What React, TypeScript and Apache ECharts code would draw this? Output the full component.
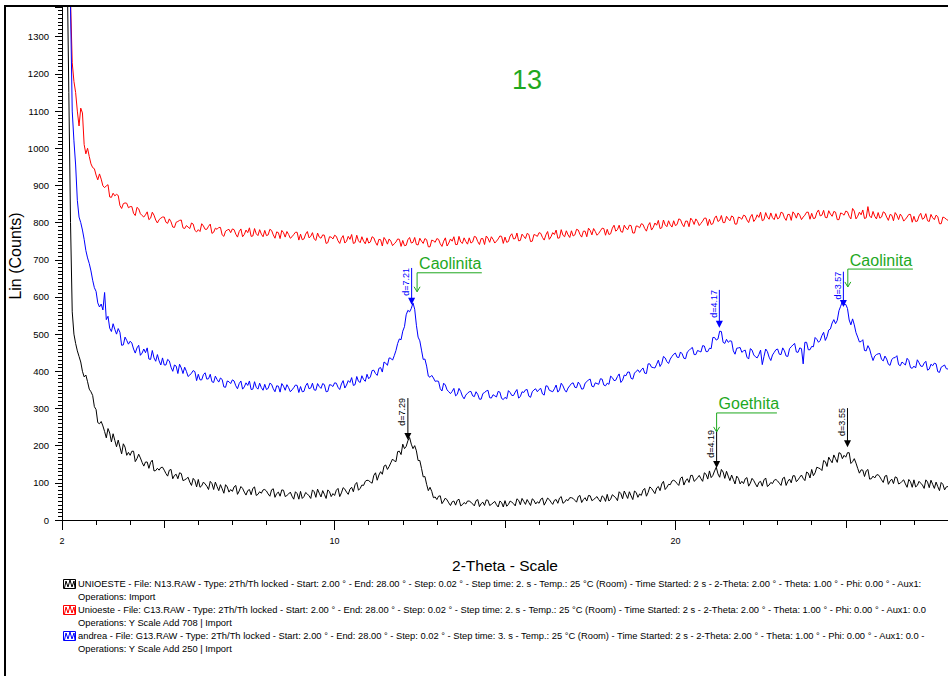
import React, { useEffect, useRef } from "react";
import * as echarts from "echarts";

// ---- data -------------------------------------------------------------
// readings every 0.1° (n.0 .. n.9 per row) and half-step readings (n.05 .. n.95)
const THETA_START = 2.0;
const THETA_STEP = 0.05;

// UNIOESTE - N13.RAW (raw counts)
const BLACK_COUNTS = [
  3200, 2000, 1150, 560, 475, 440, 400, 390, 352, 335,
  297, 259, 253, 221, 234, 232, 197, 196, 205, 174,
  174, 185, 165, 167, 145, 156, 155, 132, 139, 141,
  134, 118, 136, 120, 111, 125, 108, 115, 93, 106,
  109, 92, 97, 82, 98, 102, 79, 84, 95, 75,
  77, 93, 78, 85, 67, 82, 85, 66, 76, 81,
  78, 64, 84, 71, 64, 80, 66, 75, 56, 71,
  77, 63, 70, 58, 76, 83, 62, 69, 81, 63,
  66, 85, 73, 83, 69, 88, 95, 80, 94, 104,
  106, 99, 127, 121, 123, 148, 144, 164, 157, 185,
  204, 198, 222, 192, 186, 160, 116, 96, 88, 60,
  55, 65, 51, 54, 39, 51, 53, 38, 47, 51,
  48, 38, 55, 44, 39, 53, 42, 50, 35, 47,
  52, 42, 48, 38, 53, 58, 42, 47, 57, 43,
  45, 59, 49, 55, 42, 55, 59, 45, 55, 60,
  58, 48, 66, 55, 51, 65, 55, 63, 49, 61,
  69, 56, 64, 52, 71, 78, 58, 65, 78, 61,
  66, 85, 74, 85, 71, 90, 97, 82, 96, 105,
  104, 93, 116, 105, 101, 120, 108, 120, 104, 123,
  132, 120, 142, 115, 129, 131, 106, 109, 118, 97,
  98, 114, 99, 106, 89, 104, 108, 90, 101, 107,
  105, 93, 115, 104, 100, 119, 108, 121, 106, 126,
  136, 127, 140, 133, 157, 169, 154, 165, 181, 165,
  169, 181, 157, 153, 126, 134, 132, 110, 118, 121,
  116, 101, 120, 105, 98, 114, 99, 108, 88, 103,
  108, 93, 99, 85, 102, 107, 85, 90, 101, 81,
  90,
];
const BLACK_COUNTS_HALF = [
  2600, 1500, 800, 500, 455, 425, 385, 372, 345, 305,
  262, 265, 238, 246, 210, 214, 215, 178, 196, 182,
  185, 157, 177, 155, 156, 139, 161, 133, 134, 142,
  125, 134, 111, 123, 127, 106, 111, 102, 112, 89,
  88, 102, 91, 104, 82, 90, 95, 72, 89, 82,
  89, 69, 90, 75, 79, 68, 89, 69, 72, 82,
  70, 81, 61, 75, 81, 63, 70, 64, 76, 56,
  58, 74, 65, 81, 61, 72, 79, 58, 76, 71,
  80, 63, 87, 75, 83, 76, 101, 85, 93, 107,
  102, 120, 107, 130, 145, 136, 154, 159, 184, 176,
  192, 213, 204, 200, 160, 139, 117, 79, 77, 62,
  64, 44, 59, 46, 49, 40, 56, 41, 43, 51,
  43, 52, 36, 48, 54, 39, 46, 41, 51, 35,
  37, 51, 44, 57, 41, 50, 55, 39, 53, 49,
  56, 40, 59, 48, 53, 45, 63, 48, 52, 60,
  53, 63, 47, 60, 66, 52, 59, 55, 65, 50,
  51, 68, 60, 76, 57, 68, 76, 55, 74, 70,
  80, 64, 89, 78, 86, 79, 104, 88, 95, 107,
  98, 112, 94, 111, 120, 104, 114, 111, 127, 110,
  114, 132, 124, 136, 112, 118, 121, 97, 112, 104,
  111, 91, 112, 97, 101, 91, 113, 94, 98, 109,
  99, 112, 93, 110, 119, 103, 115, 112, 129, 113,
  119, 142, 138, 160, 144, 161, 175, 155, 179, 174,
  181, 152, 165, 139, 135, 117, 136, 111, 113, 122,
  108, 118, 96, 110, 116, 97, 104, 97, 109, 88,
  89, 104, 94, 108, 87, 96, 102, 79, 96, 89,
];

// Unioeste - C13.RAW (Y Scale Add 708)
const RED_COUNTS = [
  3600, 3000, 1700, 1230, 1150, 1060, 1095, 985, 978, 948,
  928, 931, 899, 899, 869, 879, 876, 846, 851, 852,
  843, 825, 841, 824, 815, 829, 812, 820, 799, 812,
  815, 798, 802, 787, 803, 807, 784, 788, 799, 779,
  781, 797, 782, 790, 771, 785, 787, 767, 777, 782,
  783, 769, 776, 762, 780, 786, 764, 770, 781, 762,
  765, 782, 767, 775, 757, 773, 776, 758, 768, 774,
  769, 756, 776, 763, 756, 772, 758, 766, 746, 761,
  766, 751, 758, 745, 763, 768, 746, 751, 762, 743,
  745, 762, 747, 755, 737, 753, 756, 738, 748, 755,
  752, 739, 760, 747, 741, 758, 744, 754, 735, 751,
  757, 743, 750, 737, 756, 762, 741, 748, 759, 742,
  745, 763, 749, 757, 741, 758, 762, 745, 756, 763,
  761, 749, 770, 757, 751, 769, 757, 768, 750, 766,
  773, 760, 767, 755, 773, 780, 759, 766, 778, 760,
  764, 782, 768, 777, 762, 779, 784, 766, 778, 784,
  782, 770, 793, 781, 776, 793, 781, 792, 772, 790,
  797, 784, 792, 780, 799, 806, 786, 794, 805, 788,
  792, 810, 796, 804, 789, 806, 810, 792, 804, 812,
  809, 797, 818, 806, 800, 817, 805, 815, 796, 813,
  820, 807, 815, 803, 821, 828, 808, 815, 826, 808,
  810, 828, 813, 822, 806, 823, 826, 808, 820, 828,
  825, 812, 834, 820, 814, 832, 817, 828, 808, 824,
  831, 817, 838, 810, 828, 834, 813, 818, 830, 810,
  812, 829, 815, 822, 805, 820, 823, 804, 815, 822,
  817, 804, 825, 812, 805, 822, 808, 816, 797, 813,
  806,
];
const RED_COUNTS_HALF = [
  3300, 2300, 1400, 1180, 1100, 1108, 1010, 1000, 958, 945,
  915, 917, 894, 902, 868, 872, 873, 838, 853, 840,
  843, 819, 837, 819, 821, 808, 828, 807, 808, 815,
  801, 810, 788, 801, 806, 786, 792, 784, 796, 775,
  776, 791, 782, 796, 774, 782, 787, 763, 780, 773,
  781, 761, 783, 768, 773, 763, 784, 765, 769, 779,
  767, 779, 758, 773, 779, 761, 768, 762, 774, 753,
  754, 769, 759, 773, 752, 761, 767, 744, 762, 756,
  763, 744, 765, 750, 755, 744, 766, 746, 750, 759,
  748, 759, 739, 754, 760, 742, 750, 743, 756, 736,
  738, 754, 745, 760, 740, 750, 757, 735, 753, 747,
  755, 736, 759, 745, 750, 741, 763, 744, 749, 759,
  748, 761, 741, 757, 764, 747, 755, 750, 764, 744,
  747, 764, 756, 772, 752, 763, 771, 749, 768, 763,
  771, 753, 776, 762, 768, 758, 781, 762, 767, 778,
  767, 780, 761, 777, 785, 767, 776, 771, 785, 766,
  768, 785, 777, 793, 774, 785, 793, 772, 791, 786,
  795, 777, 800, 787, 793, 784, 807, 789, 794, 805,
  795, 808, 789, 804, 812, 795, 803, 798, 812, 792,
  795, 812, 803, 819, 800, 810, 818, 796, 815, 809,
  818, 800, 822, 809, 814, 805, 827, 809, 813, 824,
  813, 826, 806, 822, 829, 812, 820, 815, 828, 809,
  811, 827, 818, 833, 813, 823, 830, 808, 826, 820,
  829, 810, 831, 817, 821, 811, 843, 813, 817, 827,
  815, 826, 806, 820, 827, 808, 816, 809, 822, 801,
  803, 818, 809, 824, 803, 813, 820, 797, 815, 809,
];

// andrea - G13.RAW (Y Scale Add 250)
const BLUE_COUNTS = [
  3500, 2800, 1700, 1100, 955, 815, 780, 725, 690, 645,
  615, 573, 565, 539, 516, 528, 500, 505, 471, 483,
  481, 460, 463, 443, 460, 463, 432, 436, 445, 417,
  417, 432, 411, 417, 394, 409, 411, 386, 395, 399,
  392, 377, 396, 380, 372, 387, 371, 378, 357, 372,
  377, 361, 367, 352, 369, 374, 352, 357, 368, 349,
  351, 368, 353, 361, 344, 360, 364, 345, 356, 362,
  359, 346, 368, 355, 350, 367, 354, 364, 346, 363,
  369, 357, 366, 355, 375, 383, 364, 373, 388, 373,
  380, 402, 394, 408, 398, 422, 436, 430, 456, 487,
  508, 552, 560, 584, 524, 482, 432, 414, 384, 382,
  374, 353, 368, 350, 340, 354, 338, 346, 326, 341,
  346, 332, 338, 325, 343, 349, 328, 334, 346, 327,
  330, 348, 335, 344, 328, 345, 350, 333, 345, 353,
  351, 339, 361, 349, 345, 363, 350, 361, 344, 361,
  369, 356, 364, 353, 372, 379, 358, 367, 380, 363,
  368, 387, 375, 386, 370, 390, 398, 381, 395, 404,
  404, 395, 420, 411, 409, 430, 421, 436, 421, 440,
  449, 437, 447, 434, 456, 464, 445, 454, 469, 453,
  462, 491, 484, 508, 478, 486, 482, 455, 462, 464,
  455, 438, 461, 444, 436, 457, 440, 453, 429, 451,
  460, 445, 455, 440, 466, 475, 451, 461, 478, 458,
  467, 491, 478, 496, 483, 511, 530, 528, 563, 588,
  580, 538, 541, 504, 479, 485, 455, 460, 429, 445,
  448, 428, 433, 416, 436, 442, 415, 421, 435, 410,
  414, 431, 414, 422, 403, 419, 422, 399, 411, 417,
  406,
];
const BLUE_COUNTS_HALF = [
  3200, 2200, 1380, 1020, 860, 800, 755, 705, 670, 625,
  584, 581, 612, 548, 507, 513, 515, 470, 492, 473,
  476, 449, 470, 449, 450, 433, 456, 427, 428, 436,
  417, 428, 400, 414, 419, 394, 400, 390, 402, 375,
  377, 391, 379, 392, 370, 378, 382, 358, 374, 367,
  374, 353, 374, 358, 362, 351, 372, 352, 356, 365,
  354, 365, 345, 360, 367, 349, 356, 350, 363, 343,
  345, 361, 353, 368, 349, 359, 367, 345, 364, 359,
  368, 351, 375, 363, 370, 362, 386, 370, 378, 392,
  385, 403, 389, 410, 425, 416, 435, 442, 475, 485,
  520, 564, 569, 567, 492, 457, 433, 387, 389, 373,
  373, 347, 363, 345, 346, 334, 354, 333, 336, 345,
  334, 345, 325, 340, 347, 329, 337, 331, 344, 324,
  326, 343, 335, 351, 332, 343, 351, 330, 350, 345,
  354, 336, 360, 347, 353, 344, 368, 350, 355, 367,
  357, 371, 352, 368, 377, 360, 369, 365, 379, 361,
  365, 383, 376, 393, 376, 388, 398, 379, 400, 397,
  409, 394, 420, 410, 419, 413, 440, 426, 433, 446,
  438, 452, 435, 452, 461, 445, 456, 452, 468, 453,
  461, 491, 487, 507, 475, 478, 481, 446, 463, 451,
  457, 433, 457, 439, 445, 418, 460, 438, 444, 458,
  446, 463, 441, 461, 471, 452, 463, 420, 478, 458,
  466, 486, 483, 505, 493, 514, 539, 537, 575, 579,
  569, 525, 525, 492, 480, 456, 469, 443, 441, 447,
  432, 441, 419, 432, 437, 418, 425, 417, 429, 408,
  409, 423, 413, 427, 406, 415, 420, 397, 414, 407,
];

const X_MIN = 2;
const X_MAX = 28;
const Y_MIN = 0;
const Y_MAX = 1380;
const X_LABEL_VALUES = [2, 10, 20];
const X_MID_TICK_VALUES = [5, 15, 25];

const CHART_TITLE = "13";
const X_NAME = "2-Theta - Scale";
const Y_NAME = "Lin (Counts)";

const BLACK = "#000000";
const RED = "#ff0000";
const BLUE = "#0000ff";
const GREEN = "#1ea81e";
const FONT = '"Liberation Sans", Arial, Helvetica, sans-serif';

// peak markers: 2-theta, counts at top of marker line, counts at arrow tip
const PEAK_LABELS = ["d=7.21", "d=4.17", "d=3.57", "d=7.29", "d=4.19", "d=3.55"];
const PEAK_COLORS = [BLUE, BLUE, BLUE, BLACK, BLACK, BLACK];
const PEAK_THETA = [12.26, 21.29, 24.93, 12.15, 21.21, 25.05];
const PEAK_TOP = [678, 619, 668, 328, 242, 301];
const PEAK_TIP = [579, 517, 573, 215, 140, 196];

// phase labels
const PHASE_LABELS = ["Caolinita", "Caolinita", "Goethita"];
const PHASE_THETA = [12.42, 25.06, 21.21];
const PHASE_THETA_END = [14.32, 26.97, 22.98];
const PHASE_TOP = [665, 675, 288];
const PHASE_TIP = [614, 627, 237];

const LEGEND_COLORS = [BLACK, RED, BLUE];
const LEGEND_TEXTS = [
  "UNIOESTE - File: N13.RAW - Type: 2Th/Th locked - Start: 2.00 ° - End: 28.00 ° - Step: 0.02 ° - Step time: 2. s - Temp.: 25 °C (Room) - Time Started: 2 s - 2-Theta: 2.00 ° - Theta: 1.00 ° - Phi: 0.00 ° - Aux1:",
  "Unioeste - File: C13.RAW - Type: 2Th/Th locked - Start: 2.00 ° - End: 28.00 ° - Step: 0.02 ° - Step time: 2. s - Temp.: 25 °C (Room) - Time Started: 2 s - 2-Theta: 2.00 ° - Theta: 1.00 ° - Phi: 0.00 ° - Aux1: 0.0",
  "andrea - File: G13.RAW - Type: 2Th/Th locked - Start: 2.00 ° - End: 28.00 ° - Step: 0.02 ° - Step time: 3. s - Temp.: 25 °C (Room) - Time Started: 2 s - 2-Theta: 2.00 ° - Theta: 1.00 ° - Phi: 0.00 ° - Aux1: 0.0 -",
];
const LEGEND_OPS = [
  "Operations: Import",
  "Operations: Y Scale Add 708 | Import",
  "Operations: Y Scale Add 250 | Import",
];

// ---- chart ------------------------------------------------------------
const interleave = (main: number[], half: number[]) =>
  main.flatMap((v, i) => (i < half.length ? [v, half[i]] : [v]));

const toPairs = (vals: number[]) =>
  vals.map((v, i) => [+(THETA_START + i * THETA_STEP).toFixed(2), v]);

const SERIES = [
  { name: "Unioeste", color: RED, values: interleave(RED_COUNTS, RED_COUNTS_HALF) },
  { name: "andrea", color: BLUE, values: interleave(BLUE_COUNTS, BLUE_COUNTS_HALF) },
  { name: "UNIOESTE", color: BLACK, values: interleave(BLACK_COUNTS, BLACK_COUNTS_HALF) },
];

const baseXAxis = {
  type: "value",
  min: X_MIN,
  max: X_MAX,
  position: "bottom",
  gridIndex: 0,
  splitLine: { show: false },
  minorSplitLine: { show: false },
};

function buildOption() {
  return {
    animation: false,
    backgroundColor: "#ffffff",
    grid: {
      left: 62,
      right: 0,
      top: 7,
      bottom: 156,
      containLabel: false,
      outerBoundsMode: "none",
    },
    xAxis: [
      {
        ...baseXAxis,
        axisLine: { show: true, lineStyle: { color: "#000", width: 1 } },
        axisTick: {
          show: true,
          length: 10,
          customValues: X_LABEL_VALUES,
          lineStyle: { color: "#000" },
        },
        axisLabel: {
          show: true,
          customValues: X_LABEL_VALUES,
          margin: 16,
          fontSize: 9,
          fontFamily: FONT,
          color: "#000",
        },
      },
      {
        ...baseXAxis,
        axisLine: { show: false },
        axisTick: {
          show: true,
          length: 8,
          customValues: X_MID_TICK_VALUES,
          lineStyle: { color: "#000" },
        },
        axisLabel: { show: false, customValues: X_MID_TICK_VALUES },
      },
      {
        ...baseXAxis,
        interval: 1,
        axisLine: { show: false },
        axisTick: { show: true, length: 5, lineStyle: { color: "#000" } },
        axisLabel: { show: false },
      },
    ],
    yAxis: {
      type: "value",
      min: Y_MIN,
      max: Y_MAX,
      interval: 100,
      splitLine: { show: false },
      minorSplitLine: { show: false },
      axisLine: { show: true, lineStyle: { color: "#000", width: 1 } },
      axisTick: { show: true, length: 7, lineStyle: { color: "#000" } },
      minorTick: {
        show: true,
        splitNumber: 10,
        length: 4,
        lineStyle: { color: "#000" },
      },
      axisLabel: {
        showMaxLabel: false,
        margin: 13,
        fontSize: 9.5,
        fontFamily: FONT,
        color: "#000",
        formatter: (v: number) => String(v),
      },
    },
    series: SERIES.map((s) => ({
      type: "line",
      name: s.name,
      xAxisIndex: 0,
      yAxisIndex: 0,
      data: toPairs(s.values),
      symbol: "none",
      showSymbol: false,
      clip: true,
      lineStyle: { color: s.color, width: 1 },
      itemStyle: { color: s.color },
    })),
  };
}

function buildGraphics(chart: any) {
  const toPx = (x: number, y: number) =>
    chart.convertToPixel({ gridIndex: 0 }, [x, y]) as number[];
  const els: any[] = [];

  els.push({
    type: "rect",
    silent: true,
    z: 20,
    shape: { x: 5, y: 6, width: 1000, height: 720 },
    style: { fill: "none", stroke: "#000", lineWidth: 2 },
  });

  els.push({
    type: "text",
    x: 527,
    y: 80,
    style: {
      text: CHART_TITLE,
      fill: GREEN,
      fontSize: 27,
      fontFamily: FONT,
      textAlign: "center",
      textVerticalAlign: "middle",
    },
  });

  els.push({
    type: "text",
    x: 505,
    y: 565,
    style: {
      text: X_NAME,
      fill: "#000",
      fontSize: 15.5,
      fontFamily: FONT,
      textAlign: "center",
      textVerticalAlign: "middle",
    },
  });
  els.push({
    type: "text",
    x: 15,
    y: 256,
    rotation: Math.PI / 2,
    style: {
      text: Y_NAME,
      fill: "#000",
      fontSize: 16,
      fontFamily: FONT,
      textAlign: "center",
      textVerticalAlign: "middle",
    },
  });

  PEAK_LABELS.forEach((label, i) => {
    const [px, pyTop] = toPx(PEAK_THETA[i], PEAK_TOP[i]);
    const [, pyTip] = toPx(PEAK_THETA[i], PEAK_TIP[i]);
    const c = PEAK_COLORS[i];
    els.push({
      type: "line",
      z: 15,
      shape: { x1: px, y1: pyTop, x2: px, y2: pyTip - 6 },
      style: { stroke: c, lineWidth: 1 },
    });
    els.push({
      type: "polygon",
      z: 15,
      shape: {
        points: [
          [px - 3.5, pyTip - 7],
          [px + 3.5, pyTip - 7],
          [px, pyTip],
        ],
      },
      style: { fill: c },
    });
    els.push({
      type: "text",
      z: 15,
      x: px - 1,
      y: pyTop,
      rotation: Math.PI / 2,
      style: {
        text: label,
        fill: c,
        fontSize: 9,
        fontFamily: FONT,
        textAlign: "right",
        textVerticalAlign: "bottom",
      },
    });
  });

  PHASE_LABELS.forEach((label, i) => {
    const [px, pyTop] = toPx(PHASE_THETA[i], PHASE_TOP[i]);
    const [px2] = toPx(PHASE_THETA_END[i], PHASE_TOP[i]);
    const [, pyTip] = toPx(PHASE_THETA[i], PHASE_TIP[i]);
    els.push({
      type: "polyline",
      z: 16,
      shape: {
        points: [
          [px2, pyTop],
          [px, pyTop],
          [px, pyTip],
        ],
      },
      style: { stroke: GREEN, lineWidth: 1, fill: "none" },
    });
    els.push({
      type: "polyline",
      z: 16,
      shape: {
        points: [
          [px - 3, pyTip - 5],
          [px, pyTip],
          [px + 3, pyTip - 5],
        ],
      },
      style: { stroke: GREEN, lineWidth: 1, fill: "none" },
    });
    els.push({
      type: "text",
      z: 16,
      x: px + 2,
      y: pyTop - 1,
      style: {
        text: label,
        fill: GREEN,
        fontSize: 16,
        fontFamily: FONT,
        textAlign: "left",
        textVerticalAlign: "bottom",
      },
    });
  });

  LEGEND_TEXTS.forEach((text, i) => {
    const y1 = 584 + 26 * i;
    const c = LEGEND_COLORS[i];
    els.push({
      type: "rect",
      shape: { x: 63.5, y: y1 - 4.5, width: 12, height: 9 },
      style: { fill: "#fff", stroke: c, lineWidth: 1 },
    });
    els.push({
      type: "polyline",
      shape: {
        points: [
          [64.5, y1 + 4],
          [66, y1 - 3],
          [68, y1 + 3],
          [70, y1 - 4],
          [72, y1 + 3],
          [74, y1 - 3],
          [75, y1 + 4],
        ],
      },
      style: { stroke: c, lineWidth: 1, fill: "none" },
    });
    els.push({
      type: "text",
      x: 78,
      y: y1,
      style: {
        text,
        fill: "#000",
        fontSize: 9.35,
        fontFamily: FONT,
        textAlign: "left",
        textVerticalAlign: "middle",
      },
    });
    els.push({
      type: "text",
      x: 78,
      y: y1 + 13,
      style: {
        text: LEGEND_OPS[i],
        fill: "#000",
        fontSize: 9.35,
        fontFamily: FONT,
        textAlign: "left",
        textVerticalAlign: "middle",
      },
    });
  });

  return els;
}

export default function App() {
  const ref = useRef<HTMLDivElement | null>(null);

  useEffect(() => {
    if (!ref.current) return;
    const chart = echarts.init(ref.current, null, { renderer: "svg" });
    chart.setOption(buildOption() as any);
    chart.setOption({ graphic: { elements: buildGraphics(chart) } } as any);
    return () => {
      chart.dispose();
    };
  }, []);

  return (
    <div
      ref={ref}
      style={{
        position: "fixed",
        left: 0,
        top: 0,
        width: 948,
        height: 676,
        background: "#fff",
      }}
    />
  );
}
